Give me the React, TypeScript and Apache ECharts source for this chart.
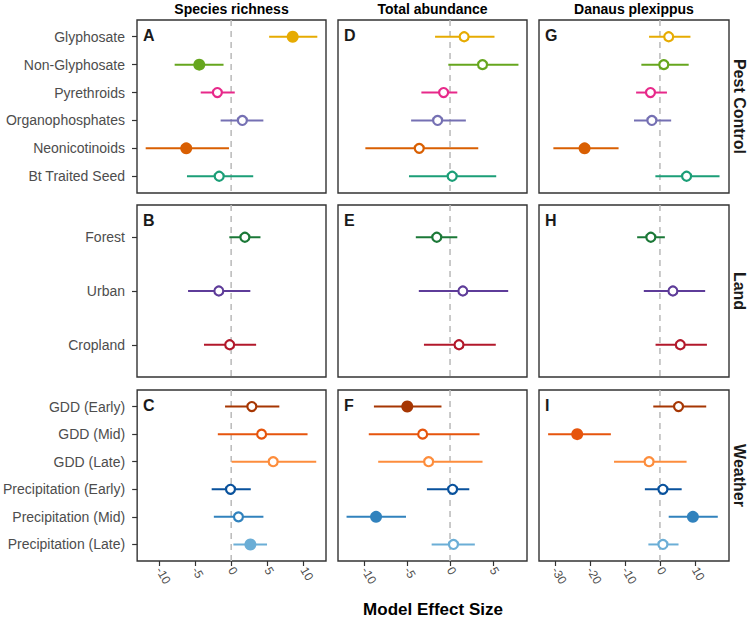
import React, { useEffect, useRef } from "react";
import * as echarts from "echarts";

// ---------- categories ----------
const pestCats = ["Glyphosate", "Non-Glyphosate", "Pyrethroids", "Organophosphates", "Neonicotinoids", "Bt Traited Seed"];
const landCats = ["Forest", "Urban", "Cropland"];
const weatherCats = ["GDD (Early)", "GDD (Mid)", "GDD (Late)", "Precipitation (Early)", "Precipitation (Mid)", "Precipitation (Late)"];

const pestColors = ["#E6AB02", "#66A61E", "#E7298A", "#7570B3", "#D95F02", "#1B9E77"];
const landColors = ["#1B7837", "#5E3C99", "#B2182B"];
const weatherColors = ["#A63603", "#E6550D", "#FD8D3C", "#08519C", "#3182BD", "#6BAED6"];

const rowLabels = ["Pest Control", "Land", "Weather"];
const colTitles = ["Species richness", "Total abundance", "Danaus plexippus"];
const panelLetters = [["A", "D", "G"], ["B", "E", "H"], ["C", "F", "I"]];

// x tick labels per column
const xTicksRichness = [-10, -5, 0, 5, 10];
const xTicksAbundance = [-10, -5, 0, 5];
const xTicksDanaus = [-30, -20, -10, 0, 10];

// rows: [estimate, lower, upper, significant(1 = filled)]
const richnessPest = [
  [8.5, 5.25, 11.9, 1],
  [-4.4, -7.8, -1.05, 1],
  [-1.9, -4.2, 0.5, 0],
  [1.55, -1.45, 4.45, 0],
  [-6.2, -11.8, -0.3, 1],
  [-1.65, -6.1, 3.05, 0],
];
const abundancePest = [
  [1.65, -1.75, 5.2, 0],
  [3.8, -0.2, 8.0, 0],
  [-0.75, -3.35, 0.85, 0],
  [-1.45, -4.55, 1.85, 0],
  [-3.6, -9.9, 3.3, 0],
  [0.25, -4.8, 5.4, 0],
];
const danausPest = [
  [2.5, -3.1, 8.7, 0],
  [1.1, -5.3, 8.2, 0],
  [-2.7, -6.8, 2.0, 0],
  [-2.3, -7.4, 3.2, 0],
  [-21.5, -30.4, -11.8, 1],
  [7.6, -1.3, 17.0, 0],
];
const richnessLand = [
  [1.9, -0.25, 4.05, 0],
  [-1.7, -5.95, 2.65, 0],
  [-0.2, -3.75, 3.45, 0],
];
const abundanceLand = [
  [-1.55, -4.0, 0.85, 0],
  [1.5, -3.65, 6.8, 0],
  [1.05, -3.05, 5.35, 0],
];
const danausLand = [
  [-2.6, -6.5, 1.4, 0],
  [3.7, -4.6, 12.9, 0],
  [5.8, -1.25, 13.4, 0],
];
const richnessWeather = [
  [2.85, -0.85, 6.65, 0],
  [4.2, -1.85, 10.55, 0],
  [5.8, 0.05, 11.75, 0],
  [-0.1, -2.7, 2.7, 0],
  [1.0, -2.4, 4.45, 0],
  [2.65, 0.3, 4.95, 1],
];
const abundanceWeather = [
  [-5.0, -8.9, -1.0, 1],
  [-3.2, -9.5, 3.45, 0],
  [-2.5, -8.4, 3.8, 0],
  [0.3, -2.7, 2.25, 0],
  [-8.65, -12.1, -5.15, 1],
  [0.4, -2.15, 2.9, 0],
];
const danausWeather = [
  [5.3, -1.9, 13.2, 0],
  [-23.6, -31.9, -14.0, 1],
  [-3.1, -13.1, 7.6, 0],
  [0.85, -4.3, 6.2, 0],
  [9.4, 2.5, 16.5, 1],
  [0.85, -3.3, 5.3, 0],
];

const FONT = "'Liberation Sans', Arial, Helvetica, sans-serif";

export default function App() {
  const ref = useRef<HTMLDivElement>(null);

  useEffect(() => {
    if (!ref.current) return;
    const chart = echarts.init(ref.current, undefined, { renderer: "svg" });

    const colLeft = [137, 338, 539];
    const colWidth = [189, 189, 190];
    const rowTop = [20, 205, 390];
    const rowHeight = [173, 172, 171];
    const xMin = [-13.0, -13.1, -34.5];
    const xMax = [13.1, 9.0, 19.7];
    const xTicks = [xTicksRichness, xTicksAbundance, xTicksDanaus];

    const rowCats = [pestCats, landCats, weatherCats];
    const rowColors = [pestColors, landColors, weatherColors];
    const panelData = [
      [richnessPest, abundancePest, danausPest],
      [richnessLand, abundanceLand, danausLand],
      [richnessWeather, abundanceWeather, danausWeather],
    ];

    const grid: any[] = [];
    const xAxis: any[] = [];
    const yAxis: any[] = [];
    const series: any[] = [];
    const graphic: any[] = [];

    for (let r = 0; r < 3; r++) {
      for (let c = 0; c < 3; c++) {
        const gi = r * 3 + c;
        const cats = rowCats[r];
        const colors = rowColors[r];
        const rows = panelData[r][c];
        const n = cats.length;
        const idx = cats.map((_, i) => i);
        grid.push({
          left: colLeft[c],
          top: rowTop[r],
          width: colWidth[c],
          height: rowHeight[r],
          show: true,
          borderColor: "#333333",
          borderWidth: 1.4,
          backgroundColor: "#ffffff",
          containLabel: false,
        });
        xAxis.push({
          type: "value",
          gridIndex: gi,
          position: "bottom",
          min: xMin[c],
          max: xMax[c],
          axisLine: { show: false, onZero: false },
          splitLine: { show: false },
          axisTick: {
            show: r === 2,
            customValues: xTicks[c],
            length: 5,
            lineStyle: { color: "#333333", width: 1.2 },
          },
          axisLabel: {
            show: r === 2,
            customValues: xTicks[c],
            rotate: -60,
            color: "#4D4D4D",
            fontSize: 12,
            fontFamily: FONT,
            margin: 7,
          },
        });
        yAxis.push({
          type: "value",
          gridIndex: gi,
          position: "left",
          inverse: true,
          min: -0.6,
          max: n - 1 + 0.6,
          axisLine: { show: false, onZero: false },
          splitLine: { show: false },
          axisTick: {
            show: c === 0,
            customValues: idx,
            length: 5,
            lineStyle: { color: "#333333", width: 1.2 },
          },
          axisLabel: {
            show: c === 0,
            customValues: idx,
            formatter: (v: number) => cats[Math.round(v)] ?? "",
            color: "#4D4D4D",
            fontSize: 14,
            fontFamily: FONT,
            margin: 12,
          },
        });
        // zero reference line
        series.push({
          type: "line",
          xAxisIndex: gi,
          yAxisIndex: gi,
          data: [
            [0, -0.6],
            [0, n - 1 + 0.6],
          ],
          symbol: "none",
          silent: true,
          z: 1,
          lineStyle: { color: "#BDBDBD", width: 1.6, type: [6, 5] },
        });
        // error bars
        series.push({
          type: "custom",
          xAxisIndex: gi,
          yAxisIndex: gi,
          z: 2,
          silent: true,
          data: rows.map((row, i) => [row[1], row[2], i]),
          encode: { x: [0, 1], y: 2 },
          renderItem: (params: any, api: any) => {
            const p1 = api.coord([api.value(0), api.value(2)]);
            const p2 = api.coord([api.value(1), api.value(2)]);
            return {
              type: "line",
              shape: { x1: p1[0], y1: p1[1], x2: p2[0], y2: p2[1] },
              style: { stroke: colors[params.dataIndex], lineWidth: 2 },
            };
          },
        });
        // estimates
        series.push({
          type: "scatter",
          xAxisIndex: gi,
          yAxisIndex: gi,
          z: 3,
          silent: true,
          data: rows.map((row, i) => ({
            value: [row[0], i],
            symbolSize: row[3] ? 12 : 9,
            itemStyle: row[3]
              ? { color: colors[i], borderWidth: 0, opacity: 1 }
              : { color: "#ffffff", borderColor: colors[i], borderWidth: 2.2, opacity: 1 },
          })),
        });
        // panel letter
        graphic.push({
          type: "text",
          left: colLeft[c] + 6,
          top: rowTop[r] + 7,
          style: {
            text: panelLetters[r][c],
            font: `bold 16px ${FONT}`,
            fill: "#1A1A1A",
          },
          z: 10,
        });
      }
      // strip labels on right
      graphic.push({
        type: "text",
        x: 739,
        y: rowTop[r] + rowHeight[r] / 2,
        rotation: -Math.PI / 2,
        style: {
          text: rowLabels[r],
          font: `bold 16px ${FONT}`,
          fill: "#1A1A1A",
          align: "center",
          verticalAlign: "middle",
        },
      });
    }
    // column titles
    for (let c = 0; c < 3; c++) {
      graphic.push({
        type: "text",
        x: colLeft[c] + colWidth[c] / 2,
        y: 9,
        style: {
          text: colTitles[c],
          font: `bold 14px ${FONT}`,
          fill: "#000000",
          align: "center",
          verticalAlign: "middle",
        },
      });
    }
    // x axis title
    graphic.push({
      type: "text",
      x: 433,
      y: 609,
      style: {
        text: "Model Effect Size",
        font: `bold 17px ${FONT}`,
        fill: "#000000",
        align: "center",
        verticalAlign: "middle",
      },
    });

    chart.setOption({
      animation: false,
      backgroundColor: "#ffffff",
      grid,
      xAxis,
      yAxis,
      series,
      graphic,
    });

    return () => chart.dispose();
  }, []);

  return (
    <div
      ref={ref}
      style={{ position: "fixed", left: 0, top: 0, width: 750, height: 618 }}
    />
  );
}
